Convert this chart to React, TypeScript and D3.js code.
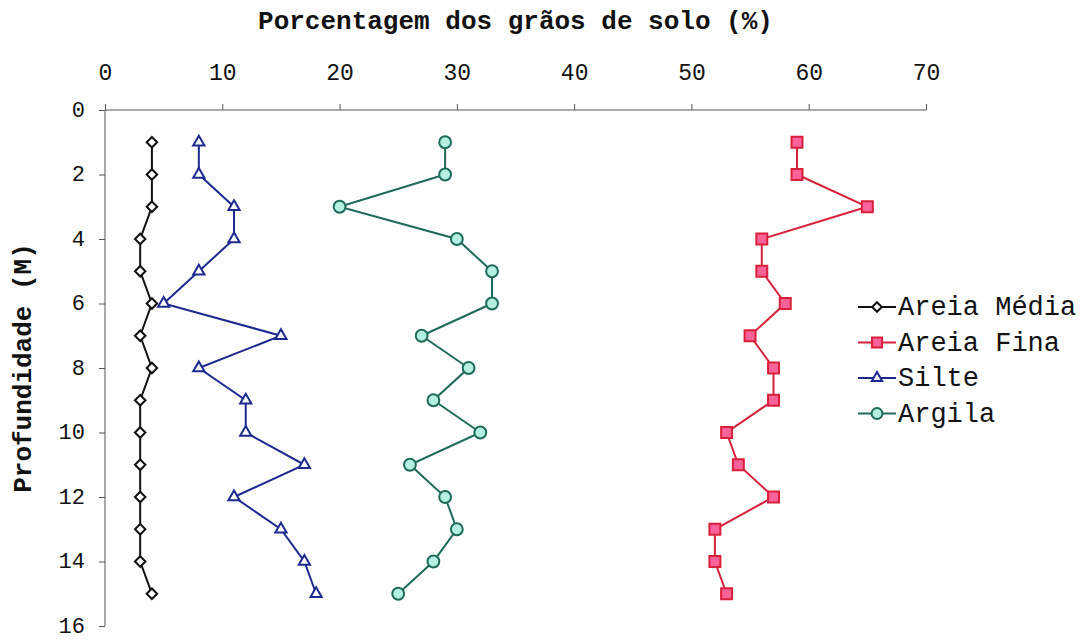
import React, { useEffect, useRef } from "react";
import * as d3 from "d3";

// depths (m)
const depths = [1, 2, 3, 4, 5, 6, 7, 8, 9, 10, 11, 12, 13, 14, 15];

// percentages
const areiaMedia = [4, 4, 4, 3, 3, 4, 3, 4, 3, 3, 3, 3, 3, 3, 4];
const areiaFina = [59, 59, 65, 56, 56, 58, 55, 57, 57, 53, 54, 57, 52, 52, 53];
const silte = [8, 8, 11, 11, 8, 5, 15, 8, 12, 12, 17, 11, 15, 17, 18];
const argila = [29, 29, 20, 30, 33, 33, 27, 31, 28, 32, 26, 29, 30, 28, 25];

const xTicks = [0, 10, 20, 30, 40, 50, 60, 70];
const yTicks = [0, 2, 4, 6, 8, 10, 12, 14, 16];

const seriesNames = ["Areia Média", "Areia Fina", "Silte", "Argila"];

const W = 1084;
const H = 641;
const mono = "'Liberation Mono', 'Courier New', monospace";

function App() {
  const ref = useRef<SVGSVGElement>(null);

  useEffect(() => {
    const svg = d3.select(ref.current);
    svg.selectAll("*").remove();

    const x = d3.scaleLinear().domain([0, 70]).range([105, 926]);
    const y = d3.scaleLinear().domain([0, 16]).range([110, 626]);

    const series = [
      { name: seriesNames[0], values: areiaMedia, stroke: "#111111", fill: "#ffffff", symbol: d3.symbolDiamond2, size: 70 },
      { name: seriesNames[1], values: areiaFina, stroke: "#d9203a", fill: "#f9639a", symbol: d3.symbolSquare, size: 120 },
      { name: seriesNames[2], values: silte, stroke: "#1c2a90", fill: "#ffffff", symbol: d3.symbolTriangle2, size: 90 },
      { name: seriesNames[3], values: argila, stroke: "#1e6a5a", fill: "#b3f0e2", symbol: d3.symbolCircle, size: 110 },
    ];

    // axes
    const xAxis = svg.append("g")
      .attr("transform", `translate(0,${y(0)})`)
      .call(d3.axisTop(x).tickValues(xTicks).tickSize(6).tickPadding(24));
    xAxis.select(".domain").attr("stroke", "#555").attr("d", `M${x(0)},0H${x(70)}`);
    xAxis.selectAll(".tick line").attr("stroke", "#555");
    xAxis.selectAll("text")
      .attr("font-family", mono)
      .attr("font-size", 23)
      .attr("fill", "#111");

    const yAxis = svg.append("g")
      .attr("transform", `translate(${x(0)},0)`)
      .call(d3.axisLeft(y).tickValues(yTicks).tickSize(6).tickPadding(14));
    yAxis.select(".domain").attr("stroke", "#555").attr("d", `M0,${y(0)}V${y(16)}`);
    yAxis.selectAll(".tick line").attr("stroke", "#555");
    yAxis.selectAll("text")
      .attr("font-family", mono)
      .attr("font-size", 22)
      .attr("dy", "0.28em")
      .attr("fill", "#111");

    // titles
    svg.append("text")
      .attr("x", (x(0) + x(70)) / 2)
      .attr("y", 29)
      .attr("text-anchor", "middle")
      .attr("font-family", mono)
      .attr("font-weight", "bold")
      .attr("font-size", 26)
      .attr("fill", "#111")
      .text("Porcentagem dos grãos de solo (%)");

    svg.append("text")
      .attr("transform", `translate(31,${(y(0) + y(16)) / 2}) rotate(-90)`)
      .attr("text-anchor", "middle")
      .attr("font-family", mono)
      .attr("font-weight", "bold")
      .attr("font-size", 26)
      .attr("fill", "#111")
      .text("Profundidade (M)");

    const line = d3.line<number>()
      .x((d) => x(d))
      .y((_, i) => y(depths[i]));

    series.forEach((s) => {
      svg.append("path")
        .datum(s.values)
        .attr("d", line)
        .attr("fill", "none")
        .attr("stroke", s.stroke)
        .attr("stroke-width", 2);

      svg.selectAll(null)
        .data(s.values)
        .enter()
        .append("path")
        .attr("d", d3.symbol().type(s.symbol).size(s.size)())
        .attr("transform", (d, i) => `translate(${x(d)},${y(depths[i])})`)
        .attr("fill", s.fill)
        .attr("stroke", s.stroke)
        .attr("stroke-width", 2);
    });

    // legend
    const legend = svg.append("g").attr("transform", "translate(858,307)");
    series.forEach((s, i) => {
      const g = legend.append("g").attr("transform", `translate(0,${i * 35.5})`);
      g.append("line")
        .attr("x1", 0).attr("x2", 38)
        .attr("stroke", s.stroke)
        .attr("stroke-width", 2);
      g.append("path")
        .attr("d", d3.symbol().type(s.symbol).size(s.size * 0.85)())
        .attr("transform", "translate(19,0)")
        .attr("fill", s.fill)
        .attr("stroke", s.stroke)
        .attr("stroke-width", 2);
      g.append("text")
        .attr("x", 40)
        .attr("y", 8)
        .attr("font-family", mono)
        .attr("font-size", 27)
        .attr("fill", "#111")
        .text(s.name);
    });
  }, []);

  return (
    <svg
      ref={ref}
      width={W}
      height={H}
      style={{ position: "absolute", left: 0, top: 0, background: "#fff" }}
    />
  );
}

export default App;
